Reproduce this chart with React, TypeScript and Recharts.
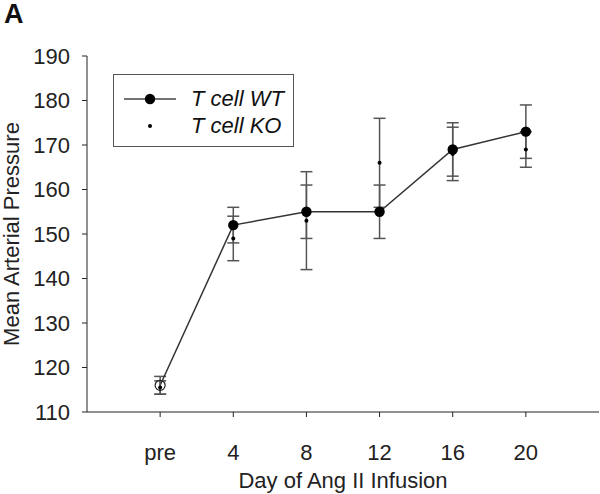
import {
  ComposedChart,
  Line,
  XAxis,
  YAxis,
  ErrorBar,
  Legend,
} from "recharts"

const days = ["pre", "4", "8", "12", "16", "20"]
const wtMean = [116, 152, 155, 155, 169, 173]
const wtErr = [2, 4, 6, 6, 6, 6]
const koMean = [115.5, 149, 153, 166, 168, 169]
const koErr = [1.5, 5, 11, 10, 6, 4]
const yTicks = [110, 120, 130, 140, 150, 160, 170, 180, 190]

const FONT = "'Liberation Sans', Arial, sans-serif"

const chartData = days.map((d, i) => ({
  x: i,
  wt: wtMean[i],
  wtErr: wtErr[i],
  ko: koMean[i],
  koErr: koErr[i],
}))

// filled dots, except the baseline point which is drawn open
const WtDot = (props: any) => {
  const { cx, cy, index } = props
  if (cx == null || cy == null) return null
  if (index === 0) {
    return <circle cx={cx} cy={cy} r={5} fill="none" stroke="#222" strokeWidth={1.2} />
  }
  return <circle cx={cx} cy={cy} r={5.2} fill="#000" />
}

const KoDot = (props: any) => {
  const { cx, cy } = props
  if (cx == null || cy == null) return null
  return <circle cx={cx} cy={cy} r={2} fill="#000" />
}

const LegendBox = () => (
  <div
    style={{
      width: 181,
      height: 73,
      border: "1px solid #555",
      boxSizing: "border-box",
      background: "#fff",
      fontFamily: FONT,
      fontStyle: "italic",
      fontSize: 22,
      color: "#111",
      position: "relative",
    }}
  >
    <svg width={70} height={73} style={{ position: "absolute", left: 0, top: 0 }}>
      <line x1={10} y1={24} x2={62} y2={24} stroke="#444" strokeWidth={1.5} />
      <circle cx={36} cy={24} r={5.2} fill="#000" />
      <circle cx={36} cy={51} r={2} fill="#000" />
    </svg>
    <div style={{ position: "absolute", left: 77, top: 11, lineHeight: "26px" }}>T cell WT</div>
    <div style={{ position: "absolute", left: 77, top: 38, lineHeight: "26px" }}>T cell KO</div>
  </div>
)

export default function App() {
  return (
    <div style={{ position: "absolute", left: 0, top: 0, width: 600, height: 494, background: "#fff", fontFamily: FONT }}>
      <div
        style={{
          position: "absolute",
          left: 4,
          top: 0,
          fontSize: 27,
          fontWeight: "bold",
          fontFamily: FONT,
          color: "#111",
          lineHeight: "28px",
        }}
      >
        A
      </div>
      <ComposedChart
        width={600}
        height={494}
        data={chartData}
        margin={{ top: 56, right: 1, bottom: 0, left: 0 }}
        style={{ fontFamily: FONT }}
      >
        <XAxis
          dataKey="x"
          type="number"
          domain={[-1, 6]}
          ticks={[0, 1, 2, 3, 4, 5]}
          tickFormatter={(v: number) => days[v]}
          height={82}
          tickSize={5}
          tickMargin={27}
          stroke="#222"
          tick={{ fontSize: 22, fill: "#222" }}
          label={{
            value: "Day of Ang II Infusion",
            position: "insideBottom",
            offset: 6,
            style: { fontSize: 22, fill: "#222", fontFamily: FONT },
          }}
        />
        <YAxis
          type="number"
          domain={[110, 190]}
          ticks={yTicks}
          width={87}
          tickSize={5}
          tickMargin={12}
          stroke="#222"
          tick={{ fontSize: 22, fill: "#222" }}
          label={{
            value: "Mean Arterial Pressure",
            angle: -90,
            position: "insideLeft",
            offset: 11,
            style: { fontSize: 22, fill: "#222", fontFamily: FONT, textAnchor: "middle" },
          }}
        />
        <Legend
          layout="horizontal"
          verticalAlign="middle"
          align="center"
          wrapperStyle={{ position: "absolute", left: 113, top: 74, width: 181, height: 73 }}
          content={() => <LegendBox />}
        />
        <Line
          dataKey="wt"
          name="T cell WT"
          stroke="#333"
          strokeWidth={1.5}
          dot={<WtDot />}
          activeDot={false}
          isAnimationActive={false}
        >
          <ErrorBar dataKey="wtErr" direction="y" width={6} stroke="#555" strokeWidth={1.5} />
        </Line>
        <Line
          dataKey="ko"
          name="T cell KO"
          stroke="none"
          dot={<KoDot />}
          activeDot={false}
          isAnimationActive={false}
        >
          <ErrorBar dataKey="koErr" direction="y" width={6} stroke="#555" strokeWidth={1.5} />
        </Line>
      </ComposedChart>
    </div>
  )
}
